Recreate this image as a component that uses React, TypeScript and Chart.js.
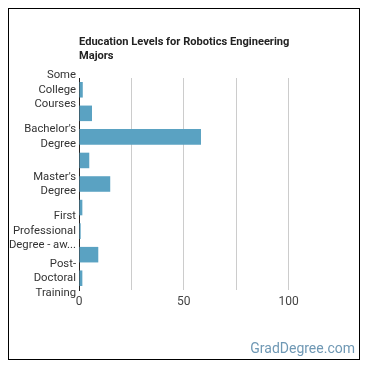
import React, { useEffect, useRef } from "react";
import { Chart, registerables } from "chart.js";

Chart.register(...registerables);

const categories = [
  "Some College Courses",
  "Associate's Degree",
  "Bachelor's Degree",
  "Post-Baccalaureate Certificate",
  "Master's Degree",
  "Post-Master's Certificate",
  "First Professional Degree - awarded for completion of a program",
  "Doctoral Degree",
  "Post-Doctoral Training",
];

const categoryLines: string[][] = [
  ["Some", "College", "Courses"],
  ["Associate's", "Degree"],
  ["Bachelor's", "Degree"],
  ["Post-", "Baccalaureate", "Certificate"],
  ["Master's", "Degree"],
  ["Post-", "Master's", "Certificate"],
  ["First", "Professional", "Degree - aw..."],
  ["Doctoral", "Degree"],
  ["Post-", "Doctoral", "Training"],
];

const values = [1.8, 6.2, 58.2, 4.9, 14.9, 1.6, 0.8, 9.2, 1.6];

const xTickLabels = [0, 50, 100];

const title = "Education Levels for Robotics Engineering Majors";
const credit = "GradDegree.com";

export default function App() {
  const canvasRef = useRef<HTMLCanvasElement | null>(null);

  useEffect(() => {
    if (!canvasRef.current) return;
    const chart = new Chart(canvasRef.current, {
      type: "bar",
      data: {
        labels: categories,
        datasets: [
          {
            data: values,
            backgroundColor: "#5aa2c2",
            borderWidth: 0,
            categoryPercentage: 1,
            barPercentage: 0.66,
          },
        ],
      },
      options: {
        indexAxis: "y",
        animation: false,
        responsive: false,
        maintainAspectRatio: false,
        layout: { padding: { top: 69, right: 18, left: 0, bottom: 0 } },
        plugins: {
          legend: { display: false },
          title: { display: false },
          tooltip: { enabled: false },
        },
        scales: {
          x: {
            min: 0,
            max: 125,
            ticks: {
              stepSize: 25,
              autoSkip: false,
              maxRotation: 0,
              color: "#444",
              font: { family: "Roboto", size: 12 },
              padding: 5,
              callback: (v: any) => (xTickLabels.includes(Number(v)) ? String(v) : ""),
            },
            grid: {
              color: (ctx: any) =>
                ctx.tick && (ctx.tick.value === 0 || ctx.tick.value === 125)
                  ? "rgba(0,0,0,0)"
                  : "#cccccc",
              drawTicks: false,
            },
            border: { display: false },
            afterFit: (scale: any) => {
              scale.height = 69;
            },
          },
          y: {
            ticks: {
              autoSkip: false,
              color: "#333",
              font: { family: "Roboto", size: 11.3, lineHeight: 1.28 },
              padding: 3,
              callback: (_v: any, i: number) => (i % 2 === 0 ? categoryLines[i] : ""),
            },
            grid: { display: false, drawTicks: false },
            border: { display: true, color: "#222", width: 1 },
            afterFit: (scale: any) => {
              scale.width = 70;
            },
          },
        },
      },
    });
    return () => chart.destroy();
  }, []);

  return (
    <div
      style={{
        position: "relative",
        width: 350,
        height: 350,
        border: "1px solid #000",
        background: "#fff",
        fontFamily: "Roboto, sans-serif",
      }}
    >
      <canvas ref={canvasRef} width={350} height={350} style={{ position: "absolute", left: 0, top: 0 }} />
      <div
        style={{
          position: "absolute",
          left: 70,
          top: 26,
          width: 225,
          fontSize: 11.1,
          lineHeight: "14px",
          fontWeight: 700,
          color: "#222",
        }}
      >
        {title}
      </div>
      <div
        style={{
          position: "absolute",
          right: 4,
          top: 331,
          fontSize: 14,
          lineHeight: "16px",
          color: "#6f98b4",
        }}
      >
        {credit}
      </div>
    </div>
  );
}
